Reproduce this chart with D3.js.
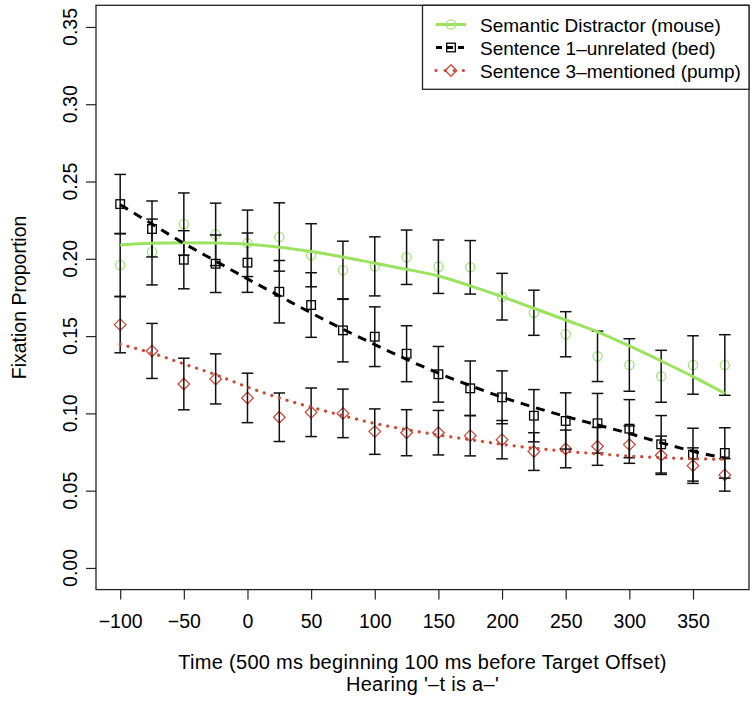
<!DOCTYPE html>
<html><head><meta charset="utf-8">
<script src="https://cdn.jsdelivr.net/npm/d3@7"></script>
<style>
body{margin:0;background:#fff}
svg{display:block}
text{font-family:"Liberation Sans",Arial,Helvetica,sans-serif;fill:#000}
</style>
</head><body>
<svg id="c" width="756" height="709"></svg>
<script>
const times = [-100,-75,-50,-25,0,25,50,75,100,125,150,175,200,225,250,275,300,325,350,375];
const xTicks = [-100,-50,0,50,100,150,200,250,300,350];
const yTicks = [0,0.05,0.10,0.15,0.20,0.25,0.30,0.35];
const seriesNames = ["Semantic Distractor (mouse)","Sentence 1\u2013unrelated (bed)","Sentence 3\u2013mentioned (pump)"];

const semMean = [0.196,0.2044,0.2225,0.2158,0.210,0.2141,0.2023,0.1926,0.1951,0.201,0.1949,0.1945,0.1755,0.1651,0.1512,0.1369,0.1313,0.124,0.1313,0.1313];
const semSE   = [0.0204,0.0213,0.0201,0.0202,0.0215,0.0221,0.0204,0.0188,0.0191,0.0176,0.0173,0.0173,0.0151,0.0146,0.0146,0.0163,0.0170,0.0168,0.0189,0.0196];
const semFit  = [0.2089,0.2100,0.2104,0.2102,0.2094,0.2075,0.2047,0.2012,0.1971,0.1932,0.1889,0.1825,0.1755,0.1680,0.1604,0.1528,0.1436,0.1339,0.1238,0.1130];

const unrMean = [0.2354,0.2193,0.1994,0.1968,0.1975,0.1787,0.1701,0.1537,0.1496,0.1386,0.1253,0.1162,0.1104,0.0985,0.0951,0.0936,0.0901,0.080,0.0733,0.0744];
const unrSE   = [0.0192,0.0181,0.0188,0.0186,0.0192,0.0202,0.0209,0.0204,0.0193,0.0181,0.0180,0.0177,0.0171,0.0169,0.0182,0.0193,0.0188,0.0186,0.0171,0.0163];
const unrFit  = [0.2350,0.2225,0.2100,0.1985,0.1870,0.1760,0.1650,0.1545,0.1445,0.1350,0.1260,0.1180,0.1105,0.1040,0.0980,0.0925,0.0870,0.0810,0.0755,0.0710];

const menMean = [0.1574,0.1404,0.119,0.1223,0.110,0.0975,0.1007,0.100,0.0882,0.0875,0.0875,0.0856,0.083,0.0753,0.077,0.0787,0.0798,0.0729,0.0662,0.0602];
const menSE   = [0.0182,0.0178,0.0167,0.0162,0.0160,0.0157,0.0157,0.0157,0.0147,0.0149,0.0144,0.0131,0.0124,0.0122,0.0122,0.0123,0.0121,0.0124,0.0115,0.0105];
const menFit  = [0.1447,0.1390,0.1320,0.1250,0.1170,0.1100,0.1040,0.0985,0.0935,0.0895,0.0860,0.0830,0.0800,0.0775,0.0755,0.0738,0.0724,0.0714,0.0707,0.0703];

const FS = 19.5;
const svg = d3.select("#c");
const x = d3.scaleLinear().domain([-119, 394]).range([96, 749]);
const y = d3.scaleLinear().domain([-0.014, 0.364]).range([589.6, 5.3]);

const series = [
  {name: seriesNames[0], mean: semMean, se: semSE, fit: semFit, line: "#9be35f", pt: "#a6e27a", dash: null, width: 3, shape: "circle"},
  {name: seriesNames[1], mean: unrMean, se: unrSE, fit: unrFit, line: "#000", pt: "#000", dash: "9 7", width: 3, shape: "square"},
  {name: seriesNames[2], mean: menMean, se: menSE, fit: menFit, line: "#cc4a3a", pt: "#cc4a3a", dash: "0.1 7.9", width: 3.2, shape: "diamond", cap: "round"}
];

function drawSymbol(g, shape, cx, cy, color) {
  if (shape === "circle") {
    g.append("circle").attr("cx", cx).attr("cy", cy).attr("r", 4.6)
      .attr("fill", "none").attr("stroke", color).attr("stroke-width", 1.3);
  } else if (shape === "square") {
    g.append("rect").attr("x", cx - 4.3).attr("y", cy - 4.3).attr("width", 8.6).attr("height", 8.6)
      .attr("fill", "none").attr("stroke", color).attr("stroke-width", 1.3);
  } else {
    const r = 5.8;
    g.append("path").attr("d", `M${cx},${cy - r}L${cx + r},${cy}L${cx},${cy + r}L${cx - r},${cy}Z`)
      .attr("fill", "none").attr("stroke", color).attr("stroke-width", 1.3);
  }
}

// points
series.forEach(s => {
  const g = svg.append("g");
  times.forEach((t, i) => drawSymbol(g, s.shape, x(t), y(s.mean[i]), s.pt));
});

// error bars
series.forEach(s => {
  const g = svg.append("g").attr("stroke", "#111").attr("stroke-width", 1.5).attr("fill", "none");
  times.forEach((t, i) => {
    const cx = x(t), lo = y(s.mean[i] - s.se[i]), hi = y(s.mean[i] + s.se[i]);
    g.append("line").attr("x1", cx).attr("x2", cx).attr("y1", lo).attr("y2", hi);
    g.append("line").attr("x1", cx - 5.8).attr("x2", cx + 5.8).attr("y1", lo).attr("y2", lo);
    g.append("line").attr("x1", cx - 5.8).attr("x2", cx + 5.8).attr("y1", hi).attr("y2", hi);
  });
});

// fit lines
const lineGen = d3.line().x((d, i) => x(times[i])).y(d => y(d)).curve(d3.curveMonotoneX);
series.forEach(s => {
  const p = svg.append("path").datum(s.fit).attr("d", lineGen)
    .attr("fill", "none").attr("stroke", s.line).attr("stroke-width", s.width);
  if (s.dash) p.attr("stroke-dasharray", s.dash);
  if (s.cap) p.attr("stroke-linecap", s.cap);
});

// box
svg.append("rect").attr("x", 96).attr("y", 5.3).attr("width", 653).attr("height", 584.3)
  .attr("fill", "none").attr("stroke", "#222").attr("stroke-width", 1.3);

// x axis
const fmt = d => d < 0 ? "\u2212" + Math.abs(d) : String(d);
const xa = svg.append("g").attr("transform", "translate(0,589.6)")
  .call(d3.axisBottom(x).tickValues(xTicks).tickSize(10).tickPadding(15).tickFormat(fmt));
xa.select(".domain").remove();
xa.selectAll("line").attr("stroke", "#222").attr("stroke-width", 1.2);
xa.selectAll("text").attr("font-size", FS).attr("font-family", "Liberation Sans, Arial, sans-serif").attr("fill", "#000");

// y axis
const ya = svg.append("g").attr("transform", "translate(96,0)")
  .call(d3.axisLeft(y).tickValues(yTicks).tickSize(10).tickFormat(""));
ya.select(".domain").remove();
ya.selectAll("line").attr("stroke", "#222").attr("stroke-width", 1.2);
svg.append("g").selectAll("text").data(yTicks).join("text")
  .attr("transform", d => `translate(76.5,${y(d)}) rotate(-90)`)
  .attr("text-anchor", "middle").attr("font-size", FS)
  .text(d => d3.format(".2f")(d));

// axis titles
svg.append("text").attr("transform", `translate(25.5,${(5.3 + 589.6) / 2}) rotate(-90)`)
  .attr("text-anchor", "middle").attr("font-size", FS).text("Fixation Proportion");
svg.append("text").attr("x", 422.5).attr("y", 669).attr("text-anchor", "middle").attr("font-size", 20)
  .attr("letter-spacing", 0.3)
  .text("Time (500 ms beginning 100 ms before Target Offset)");
svg.append("text").attr("x", 422.5).attr("y", 691).attr("text-anchor", "middle").attr("font-size", 20)
  .attr("letter-spacing", 0.3)
  .text("Hearing '\u2013t is a\u2013'");

// legend
const lg = svg.append("g");
lg.append("rect").attr("x", 422.5).attr("y", 5.3).attr("width", 326.5).attr("height", 84)
  .attr("fill", "#fff").attr("stroke", "#222").attr("stroke-width", 1.3);
series.forEach((s, i) => {
  const cy = 24.5 + i * 23;
  const seg = lg.append("line").attr("x1", 436).attr("x2", 466).attr("y1", cy).attr("y2", cy)
    .attr("stroke", s.line).attr("stroke-width", s.width);
  if (s.dash) seg.attr("stroke-dasharray", i === 1 ? "6 5" : "0.1 9");
  if (s.cap) seg.attr("stroke-linecap", s.cap);
  drawSymbol(lg, s.shape, 451, cy, s.pt);
  lg.append("text").attr("x", 480).attr("y", cy + 7).attr("font-size", 19).text(s.name);
});
</script>
</body></html>
